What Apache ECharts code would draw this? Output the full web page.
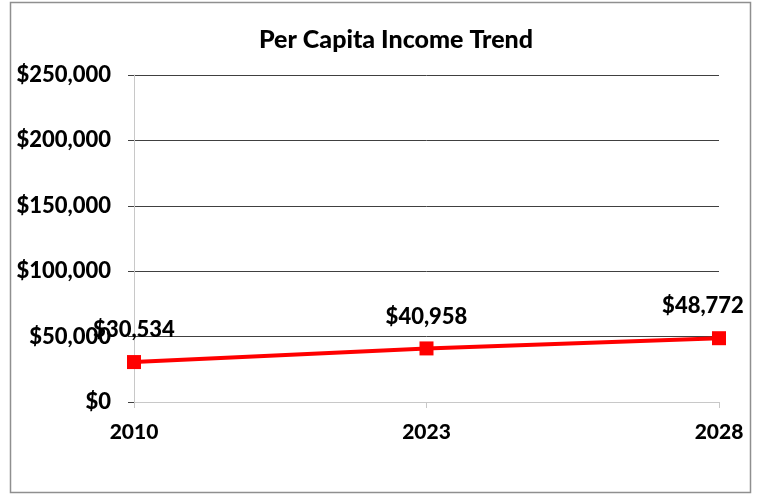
<!DOCTYPE html>
<html>
<head>
<meta charset="utf-8">
<script src="https://cdn.jsdelivr.net/npm/echarts@6/dist/echarts.min.js"></script>
<style>
html,body{margin:0;padding:0;background:#fff;}
#c{width:759px;height:495px;}
</style>
</head>
<body>
<div id="c"></div>
<script>
var categories = ['2010', '2023', '2028'];
var incomeValues = [30534, 40958, 48772];
var yTicks = [0, 50000, 100000, 150000, 200000, 250000];

var fmt = function (v) {
  return '$' + Math.round(v).toString().replace(/\B(?=(\d{3})+(?!\d))/g, ',');
};
var FONT = 'Lato, Carlito, "Liberation Sans", sans-serif';
var W = 900;

var chart = echarts.init(document.getElementById('c'), null, {renderer: 'canvas'});
chart.setOption({
  animation: false,
  backgroundColor: '#ffffff',
  title: {
    text: 'Per Capita Income Trend',
    left: 391, textAlign: 'center', top: 22,
    textStyle: {fontFamily: FONT, fontWeight: W, fontSize: 25, color: '#000'}
  },
  graphic: [{
    type: 'rect', silent: true, z: -1,
    shape: {x: 10.5, y: 2.5, width: 740, height: 490},
    style: {fill: 'none', stroke: '#8f8f8f', lineWidth: 1.5}
  }],
  grid: {left: 134, right: 40, top: 75, bottom: 93, containLabel: false},
  xAxis: {
    type: 'category',
    data: categories,
    boundaryGap: false,
    axisLine: {lineStyle: {color: '#c8c8c8', width: 1}},
    axisTick: {show: true, length: 6, lineStyle: {color: '#c8c8c8'}},
    axisLabel: {fontFamily: FONT, fontWeight: W, fontSize: 21, color: '#000', margin: 20},
    splitLine: {show: false}
  },
  yAxis: {
    type: 'value',
    min: yTicks[0], max: yTicks[yTicks.length - 1], interval: yTicks[1] - yTicks[0],
    axisLine: {show: true, lineStyle: {color: '#c8c8c8', width: 1}},
    axisTick: {show: true, length: 6, lineStyle: {color: '#404040'}},
    axisLabel: {fontFamily: FONT, fontWeight: W, fontSize: 22, color: '#000', margin: 23, formatter: fmt},
    splitLine: {show: true, lineStyle: {color: '#404040', width: 1}}
  },
  series: [{
    type: 'line',
    data: incomeValues.map(function (v, i) {
      return i === incomeValues.length - 1 ? {value: v, label: {offset: [-16, 0]}} : v;
    }),
    symbol: 'rect',
    symbolSize: 14,
    lineStyle: {color: '#ff0000', width: 4},
    itemStyle: {color: '#ff0000'},
    label: {
      show: true, position: 'top', distance: 14,
      fontFamily: FONT, fontWeight: W, fontSize: 22, color: '#000',
      formatter: function (p) { return fmt(p.value); }
    },
    z: 5
  }]
});
</script>
</body>
</html>
